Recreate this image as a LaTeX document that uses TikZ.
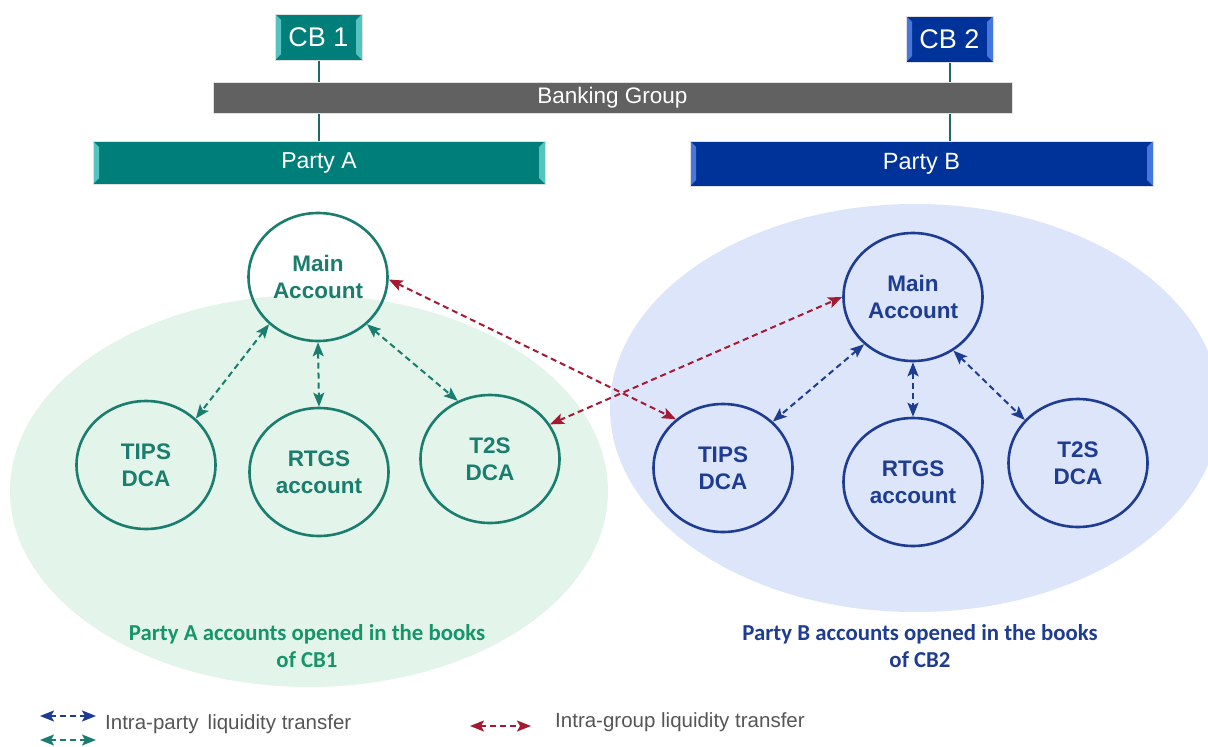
\documentclass[tikz,border=0pt]{standalone}
\usepackage{fontspec}
\setmainfont{Liberation Sans}
\newfontfamily\notefont{Carlito}
\usetikzlibrary{arrows.meta,positioning,shapes}
\definecolor{cbTeal}{HTML}{007F7A}
\definecolor{cbTealLight}{HTML}{55C4C0}
\definecolor{cbBlue}{HTML}{003399}
\definecolor{cbBlueLight}{HTML}{4676DE}
\definecolor{barGray}{HTML}{616161}
\definecolor{linkTeal}{HTML}{1D6B60}
\definecolor{accGreen}{HTML}{1A7D6D}
\definecolor{accBlue}{HTML}{1E3C92}
\definecolor{fillGreen}{HTML}{E3F4EA}
\definecolor{fillBlue}{HTML}{DCE5FA}
\definecolor{groupRed}{HTML}{A31A32}
\definecolor{noteGreen}{HTML}{16956B}
\definecolor{legendGray}{HTML}{555555}
\tikzset{
	%Define standard arrow tip
	>={Stealth[length=14pt,width=11pt,inset=3pt]},
	%Define style for header boxes
	box/.style={
		rectangle,
		draw=gray!25, line width=1pt,
		text=white,
		inner sep=0pt},
	bevel/.style={path picture={
		\fill[#1] (path picture bounding box.north west) -- ++(6pt,-6pt) -- ([shift={(6pt,6pt)}]path picture bounding box.south west) -- (path picture bounding box.south west) -- cycle;
		\fill[#1] (path picture bounding box.north east) -- ++(-6pt,-6pt) -- ([shift={(-6pt,6pt)}]path picture bounding box.south east) -- (path picture bounding box.south east) -- cycle;}},
	%Define style for account circles
	account/.style={
		ellipse,
		line width=2.6pt,
		minimum width=139pt,
		minimum height=128pt,
		inner sep=0pt,
		align=center,
		font=\bfseries\fontsize{22.5}{27}\selectfont},
	note/.style={
		align=center,
		font=\notefont\bfseries\fontsize{22.8}{27}\selectfont},
	legend/.style={
		anchor=west,
		inner sep=0pt,
		text=legendGray,
		font=\fontsize{20.5}{22}\selectfont},
	linkLine/.style={
		line width=2pt,
		draw=linkTeal},
	% Define arrow style
	edgeStyle/.style={
		{Stealth[length=14pt,width=11pt,inset=3pt]}-{Stealth[length=14pt,width=11pt,inset=3pt]},
		line width=2pt,
		dash pattern=on 6pt off 4pt}
}

\begin{document}
\begin{tikzpicture}[x=1pt,y=-1pt]
		\useasboundingbox (0,0) rectangle (1208,747);
		\clip (0,0) rectangle (1208,747);
		
		%background areas
		\node[ellipse, fill=fillGreen, minimum width=598pt, minimum height=392pt] (booksA) at (309,491) {};
		\node[ellipse, fill=fillBlue, minimum width=610pt, minimum height=408pt] (booksB) at (915,408) {};
		
		%header boxes
		\node[box, fill=cbTeal, bevel=cbTealLight, minimum width=87pt, minimum height=46pt, font=\fontsize{27}{30}\selectfont] (cbOne) at (318.5,37) {CB 1};
		\node[box, fill=cbBlue, bevel=cbBlueLight, minimum width=87pt, minimum height=46pt, font=\fontsize{27}{30}\selectfont] (cbTwo) at (949.5,39) {CB 2};
		\node[box, fill=barGray, minimum width=799pt, minimum height=31pt, font=\fontsize{22.5}{25}\selectfont] (bankGroup) at (612.5,97.5) {Banking Group};
		\node[box, fill=cbTeal, bevel=cbTealLight, minimum width=452pt, minimum height=43pt, font=\fontsize{23}{26}\selectfont] (partyA) at (319,162.5) {Party A};
		\node[box, fill=cbBlue, bevel=cbBlueLight, minimum width=463pt, minimum height=45pt, font=\fontsize{23.5}{26}\selectfont] (partyB) at (921.5,163.5) {Party B};
		
		\draw[linkLine] (cbOne.south) -- (cbOne.south |- bankGroup.north);
		\draw[linkLine] (cbOne.south |- bankGroup.south) -- (cbOne.south |- partyA.north);
		\draw[linkLine] (cbTwo.south) -- (cbTwo.south |- bankGroup.north);
		\draw[linkLine] (cbTwo.south |- bankGroup.south) -- (cbTwo.south |- partyB.north);
		
		%accounts of party A
		\node[account, draw=accGreen, text=accGreen] (mainA) at (318,277) {Main\\Account};
		\node[account, draw=accGreen, text=accGreen] (tipsA) at (146,465) {TIPS\\DCA};
		\node[account, draw=accGreen, text=accGreen] (rtgsA) at (319,472) {RTGS\\account};
		\node[account, draw=accGreen, text=accGreen] (t2sA) at (490,459) {T2S\\DCA};
		
		%accounts of party B
		\node[account, draw=accBlue, text=accBlue] (mainB) at (913,297) {Main\\Account};
		\node[account, draw=accBlue, text=accBlue] (tipsB) at (723,468) {TIPS\\DCA};
		\node[account, draw=accBlue, text=accBlue] (rtgsB) at (913,482) {RTGS\\account};
		\node[account, draw=accBlue, text=accBlue] (t2sB) at (1078,463) {T2S\\DCA};
		
		%intra-party transfers
		\draw[edgeStyle, accGreen] (mainA.224) -- (tipsA.43);
		\draw[edgeStyle, accGreen] (mainA.270) -- (rtgsA.90);
		\draw[edgeStyle, accGreen] (mainA.316) -- (t2sA.119);
		\draw[edgeStyle, accBlue] (mainB.224) -- (tipsB.43);
		\draw[edgeStyle, accBlue] (mainB.270) -- (rtgsB.90);
		\draw[edgeStyle, accBlue] (mainB.307) -- (t2sB.141);
		
		%intra-group transfers
		\draw[edgeStyle, groupRed] (mainA.358) -- (tipsB.134);
		\draw[edgeStyle, groupRed] (t2sA.30) -- (mainB.180);
		
		\node[note, text=noteGreen] (noteA) at (307,646) {Party A accounts opened in the books\\of CB1};
		\node[note, text=accBlue] (noteB) at (920,646) {Party B accounts opened in the books\\of CB2};
		
		%legend
		\coordinate (legBlueL) at (40,716);
		\coordinate (legBlueR) at (96,716);
		\coordinate (legGreenL) at (40,740);
		\coordinate (legGreenR) at (96,740);
		\coordinate (legRedL) at (470,726);
		\coordinate (legRedR) at (531,726);
		\draw[edgeStyle, accBlue] (legBlueL) -- (legBlueR);
		\draw[edgeStyle, accGreen] (legGreenL) -- (legGreenR);
		\draw[edgeStyle, groupRed] (legRedL) -- (legRedR);
		\node[legend] (legParty) at (105,724) {Intra-party\ \,liquidity transfer};
		\node[legend] (legGroup) at (555,722) {Intra-group liquidity transfer};
		
\end{tikzpicture}
\end{document}
